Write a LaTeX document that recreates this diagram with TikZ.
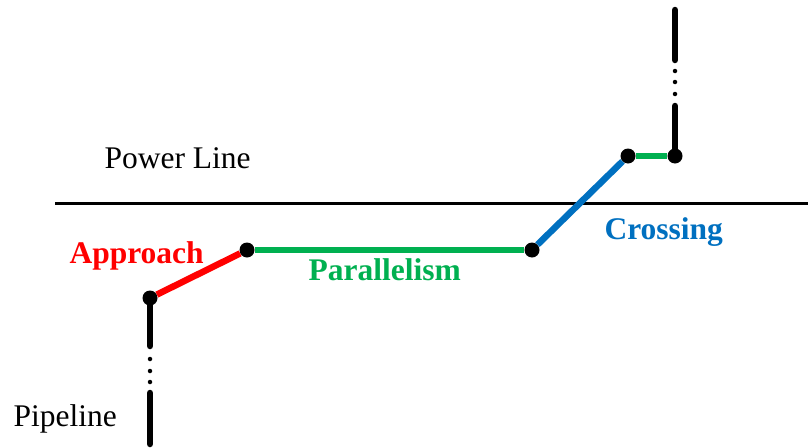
\documentclass[tikz,border=0pt]{standalone}
\usepackage{fontspec}
\setmainfont{Liberation Serif}
\usetikzlibrary{positioning}
\definecolor{appr_red}{RGB}{255,0,0}
\definecolor{par_green}{RGB}{0,176,80}
\definecolor{cross_blue}{RGB}{0,112,192}

\begin{document}
\begin{tikzpicture}[
					x=1pt, y=-1pt,
					% Define styles for the route
					pipe/.style={
						line width=6.5pt,
						line cap=round
					},
					joint/.style={
						circle,
						fill=black,
						inner sep=0pt,
						minimum size=15pt
					},
					gap_dot/.style={
						circle,
						fill=black,
						inner sep=0pt,
						minimum size=4.5pt
					},
					label_text/.style={
						font=\fontsize{31.5}{38}\selectfont,
						anchor=base west
					},
					seg_text/.style={
						font=\fontsize{31.5}{38}\selectfont\bfseries,
						anchor=base west
					}
					]
					\useasboundingbox (0,0) rectangle (808,447);
					
					% --- 1. POWER LINE ---
					\coordinate (pl_w) at (55,203);
					\coordinate (pl_e) at (808,203);
					\draw[line width=3pt] (pl_w) -- (pl_e);
					\node[label_text] (pl_text) at (101,168) {Power Line};
					
					% --- 2. JOINTS ---
					\node[joint] (j1) at (150,298) {};
					\node[joint] (j2) at (247,250) {};
					\node[joint] (j3) at (532,250) {};
					\node[joint] (j4) at (628,156) {};
					\node[joint] (j5) at (675,156) {};
					
					% --- 3. PIPELINE (lower end) ---
					\coordinate (low_a) at (150,346);
					\coordinate (low_b) at (150,393);
					\coordinate (low_c) at (150,444);
					\draw[pipe] (j1) -- (low_a);
					\draw[pipe] (low_b) -- (low_c);
					\foreach \y in {359,371,382}
					\node[gap_dot] at (150,\y) {};
					\node[label_text] (pipe_text) at (10,426) {Pipeline};
					
					% --- 4. SECTIONS ---
					\draw[pipe, appr_red, line cap=butt] (j1) -- (j2);
					\node[seg_text, text=appr_red] (appr_text) at (66,263) {Approach};
					
					\draw[pipe, par_green, line cap=butt] (j2) -- (j3);
					\node[seg_text, text=par_green] (par_text) at (305,280) {Parallelism};
					
					\draw[pipe, cross_blue, line cap=butt] (j3) -- (j4);
					\node[seg_text, text=cross_blue] (cross_text) at (601,239) {Crossing};
					
					\draw[pipe, par_green, line cap=butt] (j4) -- (j5);
					
					% --- 5. PIPELINE (upper end) ---
					\coordinate (up_a) at (675,106);
					\coordinate (up_b) at (675,60);
					\coordinate (up_c) at (675,10);
					\draw[pipe] (j5) -- (up_a);
					\draw[pipe] (up_b) -- (up_c);
					\foreach \y in {71,82,94}
					\node[gap_dot] at (675,\y) {};
					
				\end{tikzpicture}
\end{document}
